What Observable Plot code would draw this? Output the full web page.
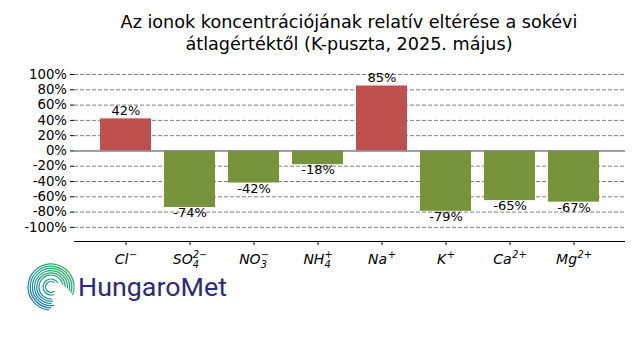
<!DOCTYPE html>
<html>
<head>
<meta charset="utf-8">
<script src="https://cdn.jsdelivr.net/npm/d3@7"></script>
<script src="https://cdn.jsdelivr.net/npm/@observablehq/plot@0.6"></script>
<style>
  html, body { margin: 0; padding: 0; background: #fff; }
  body { width: 640px; height: 360px; position: relative; overflow: hidden; font-family: "DejaVu Sans", sans-serif; }
  #title { position: absolute; left: 58px; top: 0; width: 582px; height: 58px; text-align: center;
           font-size: 17.6px; line-height: 22px; padding-top: 11px; box-sizing: border-box; color: #000; white-space: nowrap; }
  #chart { position: absolute; left: 0; top: 58px; }
  #logo { position: absolute; left: 0; top: 250px; }
  #chart g[aria-label="y-axis tick label"] text { font-size: 13.3px !important; }
  #chart g[aria-label="bar-label"] text { font-size: 13.3px !important; }
  #chart g[aria-label="x-axis tick label"] text { font-size: 14px !important; font-style: italic; }
</style>
</head>
<body>
<div id="title">Az ionok koncentrációjának relatív eltérése a sokévi<br>átlagértéktől (K-puszta, 2025. május)</div>
<div id="chart"></div>
<svg id="logo" width="260" height="70"></svg>
<script>
const ions = ["Cl⁻", "SO₄²⁻", "NO₃⁻", "NH₄⁺", "Na⁺", "K⁺", "Ca²⁺", "Mg²⁺"];
const deviations = [42, -74, -42, -18, 85, -79, -65, -67];
const yTicks = [-100, -80, -60, -40, -20, 0, 20, 40, 60, 80, 100];

const data = ions.map((ion, i) => ({ion, value: deviations[i]}));
const yDomain = [-118.5, 110.5];
const W = 640, H = 302, mL = 74, mR = 15, mT = 8, mB = 119;

const plot = Plot.plot({
  width: W,
  height: H,
  marginTop: mT,
  marginBottom: mB,
  marginLeft: mL,
  marginRight: mR,
  style: {fontFamily: "DejaVu Sans, sans-serif", fontSize: "13px", color: "#000", background: "#fff"},
  x: {type: "band", domain: ions, paddingInner: 0.2, paddingOuter: 0.39, label: null},
  y: {domain: yDomain, label: null},
  color: {type: "identity"},
  marks: [
    Plot.ruleY(yTicks.filter(t => t !== 0), {stroke: "#808080", strokeWidth: 1, strokeDasharray: "4,2"}),
    Plot.barY(data, {x: "ion", y: "value", fill: d => d.value > 0 ? "#c0504d" : "#77933c"}),
    Plot.ruleY([0], {stroke: "#808080", strokeWidth: 1.4}),
    Plot.ruleY([yDomain[0]], {stroke: "#000", strokeWidth: 1.2}),
    Plot.text(data.filter(d => d.value > 0), {x: "ion", y: "value", text: d => d.value + "%", fontSize: 13, fill: "#000",
      dy: -8.5, lineAnchor: "middle", ariaLabel: "bar-label"}),
    Plot.text(data.filter(d => d.value <= 0), {x: "ion", y: "value", text: d => d.value + "%", fontSize: 13, fill: "#000",
      dy: 5.5, lineAnchor: "middle", ariaLabel: "bar-label"}),
    Plot.axisY({ticks: yTicks, tickFormat: d => d + "%", tickSize: 4, tickPadding: 3.5, stroke: "#000"}),
    Plot.axisX({tickSize: 4, tickPadding: 9, stroke: "#000"})
  ]
});
document.getElementById("chart").appendChild(plot);

// centre each value label horizontally on its bar
const rects = Array.from(plot.querySelectorAll('g[aria-label="bar"] rect'));
const rectByIon = new Map();
rects.forEach((r, k) => {
  const d = d3.select(r).datum();
  const idx = (typeof d === "number" && d < data.length) ? d : k;
  rectByIon.set(idx, r);
});
plot.querySelectorAll('g[aria-label="bar-label"] text').forEach(t => {
  const v = parseInt(t.textContent, 10);
  const i = deviations.indexOf(v);
  const r = rectByIon.get(i) || rects[i];
  if (!r) return;
  const rb = r.getBoundingClientRect();
  const tb = t.getBoundingClientRect();
  const delta = (rb.left + rb.width / 2) - (tb.left + tb.width / 2);
  t.setAttribute("transform", ((t.getAttribute("transform") || "") + ` translate(${delta},0)`).trim());
});

// render ion labels with real sub/superscripts (mathtext-like)
const subMap = {"₀":"0","₁":"1","₂":"2","₃":"3","₄":"4","₅":"5","₆":"6","₇":"7","₈":"8","₉":"9"};
const supMap = {"¹":"1","²":"2","³":"3","⁺":"+","⁻":"−"};
d3.select(plot).selectAll('g[aria-label="x-axis tick label"] text').each(function() {
  const t = this.textContent;
  let base = "", sub = "", sup = "";
  for (const ch of t) {
    if (subMap[ch]) sub += subMap[ch];
    else if (supMap[ch]) sup += supMap[ch];
    else base += ch;
  }
  const el = d3.select(this);
  el.text(null);
  el.append("tspan").text(base);
  let subW = 0;
  if (sub) {
    const s = el.append("tspan").attr("font-size", 9.8).attr("dy", 4).text(sub);
    subW = s.node().getComputedTextLength();
  }
  if (sup) {
    el.append("tspan").attr("font-size", 9.8)
      .attr("dx", sub ? -subW : 0.5)
      .attr("dy", sub ? -10.5 : -6.5).text(sup);
  }
});

// logo
const logo = d3.select("#logo");
const cx = 51, cy = 37;
const grad = logo.append("defs").append("linearGradient").attr("id", "lg")
  .attr("gradientUnits", "userSpaceOnUse").attr("x1", cx + 20).attr("y1", cy - 24).attr("x2", cx - 20).attr("y2", cy + 24);
grad.append("stop").attr("offset", "0%").attr("stop-color", "#3aae4a");
grad.append("stop").attr("offset", "50%").attr("stop-color", "#1a9c8f");
grad.append("stop").attr("offset", "100%").attr("stop-color", "#1f6fb8");
const arcs = [
  {r: 5.5, a0: 140, a1: 400},
  {r: 8, a0: 160, a1: 420},
  {r: 12, a0: 175, a1: 440},
  {r: 14.2, a0: 172, a1: 450},
  {r: 16.4, a0: 178, a1: 455},
  {r: 18.6, a0: 170, a1: 462},
  {r: 20.8, a0: 180, a1: 466},
  {r: 23, a0: 185, a1: 470}
];
for (const a of arcs) {
  const p = d3.path();
  p.arc(cx, cy, a.r, (a.a0 - 90) * Math.PI / 180, (a.a1 - 90) * Math.PI / 180);
  logo.append("path").attr("d", p.toString()).attr("fill", "none").attr("stroke", "url(#lg)").attr("stroke-width", 1.2);
}
logo.append("text").attr("x", 78).attr("y", 45.5).attr("font-family", "Roboto, sans-serif").attr("font-weight", 400)
  .attr("font-size", 26.5).attr("fill", "#2b2a7c").attr("textLength", 149).attr("lengthAdjust", "spacingAndGlyphs").text("HungaroMet");
</script>
</body>
</html>
